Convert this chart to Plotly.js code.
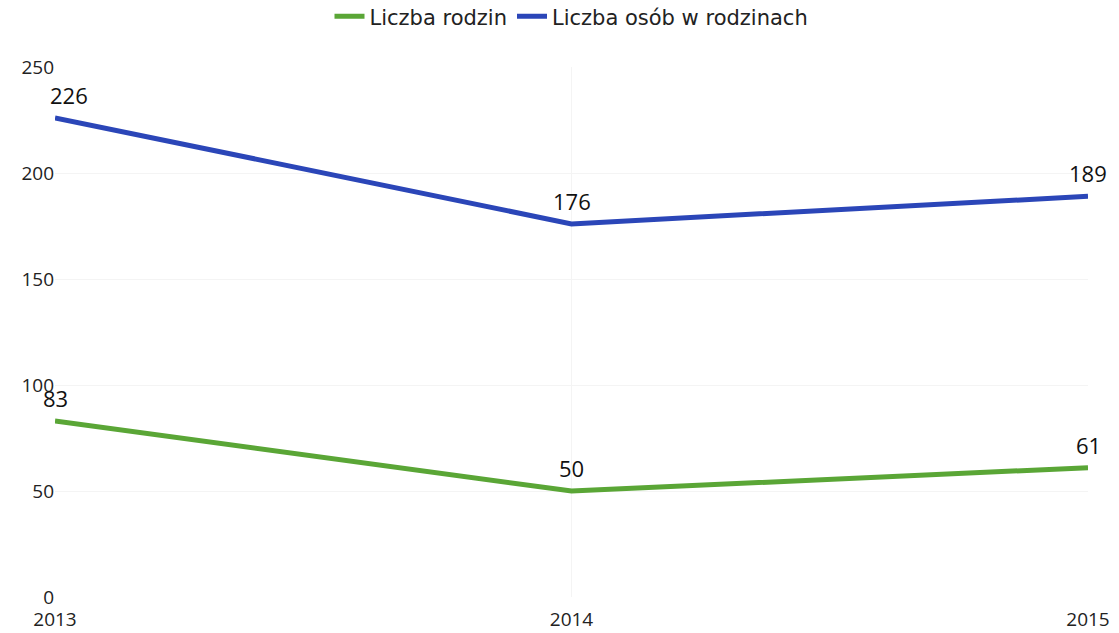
<!DOCTYPE html>
<html>
<head>
<meta charset="utf-8">
<script src="https://cdn.plot.ly/plotly-3.0.1.min.js"></script>
<style>html,body{margin:0;padding:0;background:#fff;}#chart{width:1119px;height:633px;}</style>
</head>
<body>
<div id="chart"></div>
<script>
const years = ['2013', '2014', '2015'];
const rodziny = [83, 50, 61];
const osoby = [226, 176, 189];
const yTicks = [0, 50, 100, 150, 200, 250];

const font = 'Open Sans, Noto Sans, sans-serif';

const traces = [
  {
    x: years, y: rodziny, name: 'Liczba rodzin', type: 'scatter', mode: 'lines',
    line: {color: '#5aa636', width: 5}
  },
  {
    x: years, y: osoby, name: 'Liczba osób w rodzinach', type: 'scatter', mode: 'lines',
    line: {color: '#2b46b8', width: 5}
  }
];

const xshifts = [14, 0, 0];
const annotations = [];
[rodziny, osoby].forEach((series, si) => {
  series.forEach((v, i) => {
    annotations.push({
      x: i, y: v, xref: 'x', yref: 'y', text: String(v), showarrow: false,
      yanchor: 'bottom', xanchor: 'center', yshift: 6,
      xshift: (si === 1 ? xshifts[i] : 0),
      font: {family: font, size: 22, color: '#111'}
    });
  });
});

const layout = {
  width: 1119, height: 633,
  margin: {l: 55, r: 31, t: 67, b: 36, autoexpand: false},
  paper_bgcolor: '#fff', plot_bgcolor: '#fff',
  font: {family: font, size: 19, color: '#222'},
  showlegend: true,
  legend: {orientation: 'h', x: 0.5, xanchor: 'center', y: 1.095, yanchor: 'middle',
           font: {family: 'DejaVu Sans, sans-serif', size: 21, color: '#222'}},
  annotations: annotations,
  xaxis: {
    type: 'category', range: [0, 2], showgrid: true, gridcolor: '#f4f4f4',
    zeroline: false, showline: false, ticks: 'outside', ticklen: 5, tickcolor: 'rgba(0,0,0,0)',
    tickfont: {family: font, size: 19, color: '#222'},
    fixedrange: true
  },
  yaxis: {
    range: [0, 250], tickvals: yTicks, showgrid: true, gridcolor: '#f4f4f4',
    zeroline: false, showline: false, ticks: '', tickfont: {family: font, size: 19, color: '#222'},
    fixedrange: true
  }
};

Plotly.newPlot('chart', traces, layout, {displayModeBar: false, staticPlot: true});
</script>
</body>
</html>
